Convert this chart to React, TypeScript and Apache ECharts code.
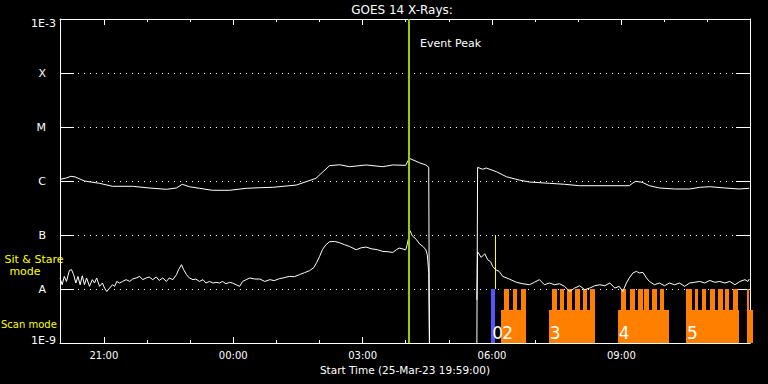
import React, { useEffect, useRef } from "react";
import * as echarts from "echarts";

// ---------- data ----------
const START_TIME = "19:59";
const END_TIME = "11:59";
const X_TICK_LABELS = ["21:00", "00:00", "03:00", "06:00", "09:00"];
const X_MINOR_TICKS = ["20:00", "21:00", "22:00", "23:00", "00:00", "01:00", "02:00", "03:00", "04:00", "05:00", "06:00", "07:00", "08:00", "09:00", "10:00", "11:00"];
const Y_TICK_LABELS = ["1E-9", "A", "B", "C", "M", "X", "1E-3"];
const Y_MIN = 1e-9;
const Y_MAX = 1e-3;

// GOES 1-8 A (long) channel, W/m^2
const LONG_CHANNEL: [string, number | null][] = [
  ["19:59", 1.07e-6], ["20:08", 1.14e-6], ["20:14", 1.22e-6], ["20:20", 1.19e-6], ["20:33", 1.0e-6],
  ["20:54", 9.06e-7], ["21:12", 7.98e-7], ["21:40", 7.98e-7], ["22:03", 7.42e-7], ["22:27", 7.02e-7],
  ["22:41", 7.42e-7], ["22:49", 8.69e-7], ["22:59", 7.84e-7], ["23:13", 7.32e-7], ["23:31", 6.73e-7],
  ["23:55", 6.73e-7], ["00:18", 7.32e-7], ["00:37", 7.51e-7], ["00:55", 7.64e-7], ["01:28", 8.43e-7],
  ["01:55", 1.12e-6], ["02:14", 1.92e-6], ["02:28", 2.0e-6], ["02:42", 1.84e-6], ["03:05", 1.98e-6],
  ["03:28", 1.84e-6], ["03:42", 1.98e-6], ["04:00", 1.95e-6], ["04:05", 2.63e-6], ["04:19", 2.18e-6],
  ["04:28", 1.98e-6], ["04:32", 1.8e-6], ["04:33", 1e-9], ["05:00", null], ["05:39", 1e-9],
  ["05:40", 1.79e-6], ["05:47", 1.65e-6], ["05:52", 1.74e-6], ["06:06", 1.49e-6], ["06:20", 1.2e-6],
  ["06:38", 1.04e-6], ["06:52", 9.58e-7], ["07:20", 9.06e-7], ["07:41", 8.69e-7], ["08:02", 8.18e-7],
  ["09:11", 8.18e-7], ["09:16", 9.18e-7], ["09:20", 9.87e-7], ["09:29", 9.46e-7], ["09:39", 8.18e-7],
  ["09:53", 7.42e-7], ["10:14", 7.11e-7], ["10:35", 7.11e-7], ["10:49", 7.64e-7], ["11:03", 7.84e-7],
  ["11:24", 7.42e-7], ["11:44", 7.11e-7], ["11:58", 7.32e-7],
];

// GOES 0.5-4 A (short) channel, W/m^2
const SHORT_CHANNEL: [string, number | null][] = [
  ["19:59", 1.6e-8], ["20:02", 1.2e-8], ["20:05", 1.71e-8], ["20:08", 1.38e-8], ["20:12", 2.21e-8],
  ["20:15", 2.28e-8], ["20:18", 1.84e-8], ["20:21", 1.29e-8], ["20:24", 1.71e-8], ["20:27", 1.2e-8],
  ["20:30", 1.76e-8], ["20:33", 1.2e-8], ["20:36", 1.6e-8], ["20:40", 1.12e-8], ["20:44", 1.49e-8],
  ["20:47", 1.29e-8], ["20:50", 1.6e-8], ["20:54", 1.12e-8], ["20:58", 1.29e-8], ["21:01", 1.04e-8],
  ["21:04", 9.0e-9], ["21:08", 1.04e-8], ["21:12", 1.2e-8], ["21:15", 1.12e-8], ["21:18", 1.38e-8],
  ["21:22", 1.29e-8], ["21:26", 1.38e-8], ["21:31", 1.49e-8], ["21:36", 1.38e-8], ["21:40", 1.53e-8],
  ["21:45", 1.6e-8], ["21:50", 1.71e-8], ["21:54", 1.49e-8], ["21:59", 1.6e-8], ["22:03", 1.67e-8],
  ["22:08", 1.49e-8], ["22:13", 1.67e-8], ["22:17", 1.44e-8], ["22:22", 1.6e-8], ["22:27", 1.38e-8],
  ["22:31", 1.6e-8], ["22:36", 1.49e-8], ["22:41", 1.84e-8], ["22:44", 2.28e-8], ["22:48", 2.82e-8],
  ["22:51", 2.28e-8], ["22:55", 1.84e-8], ["22:59", 1.6e-8], ["23:04", 1.49e-8], ["23:08", 1.53e-8],
  ["23:13", 1.38e-8], ["23:18", 1.49e-8], ["23:22", 1.29e-8], ["23:27", 1.38e-8], ["23:32", 1.29e-8],
  ["23:36", 1.33e-8], ["23:41", 1.29e-8], ["23:45", 1.38e-8], ["23:50", 1.25e-8], ["23:55", 1.33e-8],
  ["23:59", 1.29e-8], ["00:04", 1.2e-8], ["00:09", 1.12e-8], ["00:13", 1.38e-8], ["00:18", 1.49e-8],
  ["00:23", 1.6e-8], ["00:30", 1.53e-8], ["00:37", 1.53e-8], ["00:44", 1.38e-8], ["00:51", 1.49e-8],
  ["00:57", 1.43e-8], ["01:04", 1.55e-8], ["01:11", 1.62e-8], ["01:18", 1.71e-8], ["01:25", 1.69e-8],
  ["01:32", 1.84e-8], ["01:39", 2.0e-8], ["01:46", 2.18e-8], ["01:52", 2.48e-8], ["01:56", 3.07e-8],
  ["02:00", 3.96e-8], ["02:04", 5.33e-8], ["02:09", 6.6e-8], ["02:14", 7.5e-8], ["02:21", 7.6e-8],
  ["02:28", 7.2e-8], ["02:35", 6.6e-8], ["02:42", 6.13e-8], ["02:51", 5.33e-8], ["02:58", 5.8e-8],
  ["03:05", 5.98e-8], ["03:12", 5.56e-8], ["03:21", 5.33e-8], ["03:28", 4.96e-8], ["03:35", 4.9e-8],
  ["03:42", 4.76e-8], ["03:47", 5.33e-8], ["03:51", 5.73e-8], ["04:00", 5.33e-8], ["04:02", 6.6e-8],
  ["04:06", 1.2e-7], ["04:09", 9.7e-8], ["04:15", 8.2e-8], ["04:19", 6.9e-8], ["04:24", 6.13e-8],
  ["04:28", 5.33e-8], ["04:30", 4.31e-8], ["04:32", 2.0e-8], ["04:33", 1e-9], ["05:00", null],
  ["05:39", 6.3e-9], ["05:40", 4.9e-8], ["05:45", 3.85e-8], ["05:50", 4.5e-8], ["05:54", 3.49e-8],
  ["05:58", 3.2e-8], ["06:01", 2.62e-8], ["06:05", 2.28e-8], ["06:10", 2.12e-8], ["06:15", 1.71e-8],
  ["06:24", 1.53e-8], ["06:34", 1.33e-8], ["06:43", 1.25e-8], ["06:52", 1.2e-8], ["06:59", 1.33e-8],
  ["07:06", 1.49e-8], ["07:13", 1.2e-8], ["07:20", 1.29e-8], ["07:27", 1.2e-8], ["07:34", 1.25e-8],
  ["07:41", 1.12e-8], ["07:48", 9.0e-9], ["07:55", 1.04e-8], ["08:02", 1.15e-8], ["08:09", 9.7e-9],
  ["08:16", 1.04e-8], ["08:23", 1.15e-8], ["08:30", 1.2e-8], ["08:37", 1.15e-8], ["08:44", 1.29e-8],
  ["08:51", 1.04e-8], ["08:57", 1.12e-8], ["09:02", 9.0e-9], ["09:07", 1.29e-8], ["09:11", 1.6e-8],
  ["09:16", 1.98e-8], ["09:21", 2.12e-8], ["09:25", 1.98e-8], ["09:30", 2.03e-8], ["09:35", 1.6e-8],
  ["09:39", 1.38e-8], ["09:46", 1.2e-8], ["09:53", 1.29e-8], ["10:00", 1.15e-8], ["10:07", 1.29e-8],
  ["10:14", 1.2e-8], ["10:21", 1.29e-8], ["10:28", 1.12e-8], ["10:35", 1.29e-8], ["10:42", 1.33e-8],
  ["10:49", 1.38e-8], ["10:56", 1.29e-8], ["11:03", 1.44e-8], ["11:10", 1.33e-8], ["11:17", 1.38e-8],
  ["11:24", 1.29e-8], ["11:31", 1.38e-8], ["11:38", 1.2e-8], ["11:45", 1.38e-8], ["11:52", 1.49e-8],
  ["11:56", 1.38e-8], ["11:58", 1.53e-8],
];

// observing-mode timeline
const SCAN_LEVEL = 4e-9;
const STARE_LEVEL = 1e-8;
const SCAN_BLOCKS: [string, string][] = [
  ["06:13", "06:47"], ["07:19", "08:24"], ["08:55", "10:06"], ["10:30", "11:44"], ["11:55", "12:03"],
];
const STARE_BLOCKS: [string, string][] = [
  ["06:17", "06:24"], ["06:29", "06:35"], ["06:40", "06:47"],
  ["07:23", "07:30"], ["07:34", "07:40"], ["07:45", "07:52"], ["07:55", "08:02"], ["08:06", "08:12"], ["08:17", "08:24"],
  ["09:00", "09:07"], ["09:12", "09:19"], ["09:23", "09:30"], ["09:32", "09:39"], ["09:43", "09:49"], ["09:54", "10:00"],
  ["10:30", "10:38"], ["10:42", "10:47"], ["10:52", "10:58"], ["11:03", "11:10"], ["11:14", "11:21"], ["11:24", "11:30"], ["11:35", "11:42"],
  ["11:55", "11:58"],
];
const BLUE_BLOCK: [string, string] = ["05:59", "06:04"];
const YELLOW_MARK = { time: "06:04", from: 1e-8, to: 1e-7 };
const MODE_LABEL_TIMES = ["05:59", "06:13", "07:19", "08:55", "10:30"];
const MODE_LABEL_TEXTS = ["0", "2", "3", "4", "5"];
const EVENT_PEAK_TIME = "04:05";

// ---------- helpers ----------
const FONT = "DejaVu Sans";
const toHours = (s: string) => {
  const [H, M] = s.split(":").map(Number);
  let h = H + M / 60;
  if (H < 19) h += 24;
  return h;
};
const X_MIN = toHours(START_TIME);
const X_MAX = toHours(END_TIME);
const majorTicks = X_TICK_LABELS.map(toHours);
const minorTicks = X_MINOR_TICKS.map(toHours);

const lineData = (arr: [string, number | null][]) =>
  arr.map(([t, v]) => [toHours(t), v === null ? "-" : v]);

const ORANGE = "#ff8000";

const rectRender = (color: string) => (params: any, api: any) => {
  const s = api.value(0);
  const e = api.value(1);
  const top = api.value(2);
  const p0 = api.coord([s, top]);
  const p1 = api.coord([e, Y_MIN]);
  const x0 = Math.round(p0[0]);
  const x1 = Math.round(p1[0]);
  const y0 = Math.round(p0[1]);
  const y1 = Math.round(p1[1]);
  return {
    type: "rect",
    shape: { x: x0, y: y0, width: x1 - x0, height: y1 - y0 },
    style: { fill: color },
  };
};

const option: any = {
  animation: false,
  backgroundColor: "#000",
  grid: { left: 60, top: 19, width: 690, height: 324, containLabel: false },
  xAxis: [
    {
      type: "value", position: "bottom", min: X_MIN, max: X_MAX,
      axisLine: { show: true, onZero: false, lineStyle: { color: "#fff", width: 1 } },
      axisTick: { show: true, inside: true, length: 6, customValues: majorTicks, lineStyle: { color: "#fff" } },
      axisLabel: {
        show: true, customValues: majorTicks, color: "#fff", fontSize: 10, fontFamily: FONT, margin: 7,
        formatter: (v: number) => {
          let best = 0;
          majorTicks.forEach((m, i) => { if (Math.abs(m - v) < Math.abs(majorTicks[best] - v)) best = i; });
          return X_TICK_LABELS[best];
        },
      },
      splitLine: { show: false },
      name: "Start Time (25-Mar-23 19:59:00)", nameLocation: "middle", nameGap: 20,
      nameTextStyle: { color: "#fff", fontSize: 10.5, fontFamily: FONT },
    },
    {
      type: "value", position: "bottom", min: X_MIN, max: X_MAX,
      axisLine: { show: false, onZero: false },
      axisTick: { show: true, inside: true, length: 3, customValues: minorTicks, lineStyle: { color: "#fff" } },
      axisLabel: { show: false }, splitLine: { show: false },
    },
    {
      type: "value", position: "top", min: X_MIN, max: X_MAX,
      axisLine: { show: true, onZero: false, lineStyle: { color: "#fff", width: 1 } },
      axisTick: { show: true, inside: true, length: 6, customValues: majorTicks, lineStyle: { color: "#fff" } },
      axisLabel: { show: false }, splitLine: { show: false },
    },
    {
      type: "value", position: "top", min: X_MIN, max: X_MAX,
      axisLine: { show: false, onZero: false },
      axisTick: { show: true, inside: true, length: 3, customValues: minorTicks, lineStyle: { color: "#fff" } },
      axisLabel: { show: false }, splitLine: { show: false },
    },
  ],
  yAxis: [
    {
      type: "log", logBase: 10, min: Y_MIN, max: Y_MAX, position: "left", splitNumber: 6,
      axisLine: { show: true, onZero: false, lineStyle: { color: "#fff", width: 1 } },
      axisTick: { show: true, inside: true, length: 14, lineStyle: { color: "#fff" } },
      axisLabel: {
        show: true, margin: 4, color: "#fff", fontSize: 11, fontFamily: FONT,
        formatter: (v: number) => {
          const e = Math.round(Math.log10(v));
          const lbl = Y_TICK_LABELS[e + 9];
          if (e === -3) return `{t|${lbl}}`;
          if (e === -9) return `{b|${lbl}}`;
          return `{l|${lbl}}`;
        },
        rich: {
          t: { color: "#fff", fontSize: 11, fontFamily: FONT, padding: [8, 0, 0, 0] },
          b: { color: "#fff", fontSize: 11, fontFamily: FONT, padding: [0, 0, 5, 0] },
          l: { color: "#fff", fontSize: 11, fontFamily: FONT, padding: [0, 10, 0, 0] },
        },
      },
      splitLine: { show: true, lineStyle: { color: "#fff", width: 1, type: [1, 5] } },
    },
    {
      type: "log", logBase: 10, min: Y_MIN, max: Y_MAX, position: "right", splitNumber: 6,
      axisLine: { show: true, onZero: false, lineStyle: { color: "#fff", width: 1 } },
      axisTick: { show: true, inside: true, length: 14, lineStyle: { color: "#fff" } },
      axisLabel: { show: false }, splitLine: { show: false },
    },
  ],
  graphic: [
    { type: "text", x: 402, y: 10, style: { text: "GOES 14 X-Rays:", fill: "#fff", fontSize: 12, fontFamily: FONT, align: "center", verticalAlign: "middle" } },
    { type: "text", x: 34, y: 259, style: { text: "Sit & Stare", fill: "#ffff00", fontSize: 11, fontFamily: FONT, align: "center", verticalAlign: "middle" } },
    { type: "text", x: 25, y: 271.5, style: { text: "mode", fill: "#ffff00", fontSize: 11, fontFamily: FONT, align: "center", verticalAlign: "middle" } },
    { type: "text", x: 1, y: 324, style: { text: "Scan mode", fill: "#ffff00", fontSize: 10, fontFamily: FONT, align: "left", verticalAlign: "middle" } },
  ],
  series: [
    {
      type: "custom", name: "scan", xAxisIndex: 0, yAxisIndex: 0,
      encode: { x: [0, 1], y: 2 },
      data: SCAN_BLOCKS.map(([s, e]) => [toHours(s), toHours(e), SCAN_LEVEL]),
      renderItem: rectRender(ORANGE), z: 1,
    },
    {
      type: "custom", name: "stare", xAxisIndex: 0, yAxisIndex: 0,
      encode: { x: [0, 1], y: 2 },
      data: STARE_BLOCKS.map(([s, e]) => [toHours(s), toHours(e), STARE_LEVEL]),
      renderItem: rectRender(ORANGE), z: 1,
    },
    {
      type: "custom", name: "blue", xAxisIndex: 0, yAxisIndex: 0,
      encode: { x: [0, 1], y: 2 },
      data: [[toHours(BLUE_BLOCK[0]), toHours(BLUE_BLOCK[1]), STARE_LEVEL]],
      renderItem: rectRender("#5555ff"), z: 1,
    },
    {
      type: "custom", name: "yellowMark", xAxisIndex: 0, yAxisIndex: 0,
      encode: { x: 0, y: [1, 2] },
      data: [[toHours(YELLOW_MARK.time), YELLOW_MARK.from, YELLOW_MARK.to]],
      renderItem: (params: any, api: any) => {
        const p0 = api.coord([api.value(0), api.value(1)]);
        const p1 = api.coord([api.value(0), api.value(2)]);
        const x = Math.round(p0[0]) + 0.5;
        return { type: "line", shape: { x1: x, y1: Math.round(p0[1]), x2: x, y2: Math.round(p1[1]) }, style: { stroke: "#ffff00", lineWidth: 1 } };
      },
      z: 2,
    },
    {
      type: "line", name: "long", xAxisIndex: 0, yAxisIndex: 0, showSymbol: false, symbol: "none",
      data: lineData(LONG_CHANNEL), connectNulls: false,
      lineStyle: { color: "#fff", width: 1 }, z: 3,
    },
    {
      type: "line", name: "short", xAxisIndex: 0, yAxisIndex: 0, showSymbol: false, symbol: "none",
      data: lineData(SHORT_CHANNEL), connectNulls: false,
      lineStyle: { color: "#fff", width: 1 }, z: 3,
    },
    {
      type: "custom", name: "modeLabels", xAxisIndex: 0, yAxisIndex: 0,
      encode: { x: 0 },
      data: MODE_LABEL_TIMES.map((t, i) => [toHours(t), i]),
      renderItem: (params: any, api: any) => {
        const p = api.coord([api.value(0), Y_MIN]);
        return {
          type: "text", x: p[0] + 1, y: p[1] - 10,
          style: { text: MODE_LABEL_TEXTS[api.value(1)], fill: "#fff", fontSize: 17, fontFamily: FONT, align: "left", verticalAlign: "middle" },
        };
      },
      z: 4,
    },
    {
      type: "custom", name: "eventPeak", xAxisIndex: 0, yAxisIndex: 0,
      encode: { x: 0 },
      data: [[toHours(EVENT_PEAK_TIME)]],
      renderItem: (params: any, api: any) => {
        const top = api.coord([api.value(0), Y_MAX]);
        const bot = api.coord([api.value(0), Y_MIN]);
        const x = Math.round(top[0]);
        return {
          type: "group",
          children: [
            { type: "line", shape: { x1: x, y1: top[1], x2: x, y2: bot[1] }, style: { stroke: "#99cc00", lineWidth: 2 } },
            { type: "text", x: x + 11, y: top[1] + 24, style: { text: "Event Peak", fill: "#fff", fontSize: 11, fontFamily: FONT, align: "left", verticalAlign: "middle" } },
          ],
        };
      },
      z: 5,
    },
  ],
};

export default function App() {
  const ref = useRef<HTMLDivElement>(null);
  useEffect(() => {
    const chart = echarts.init(ref.current!, null, { renderer: "svg" });
    chart.setOption(option);
    return () => chart.dispose();
  }, []);
  return (
    <div
      ref={ref}
      style={{ position: "fixed", left: 0, top: 0, width: 768, height: 384, background: "#000" }}
    />
  );
}
